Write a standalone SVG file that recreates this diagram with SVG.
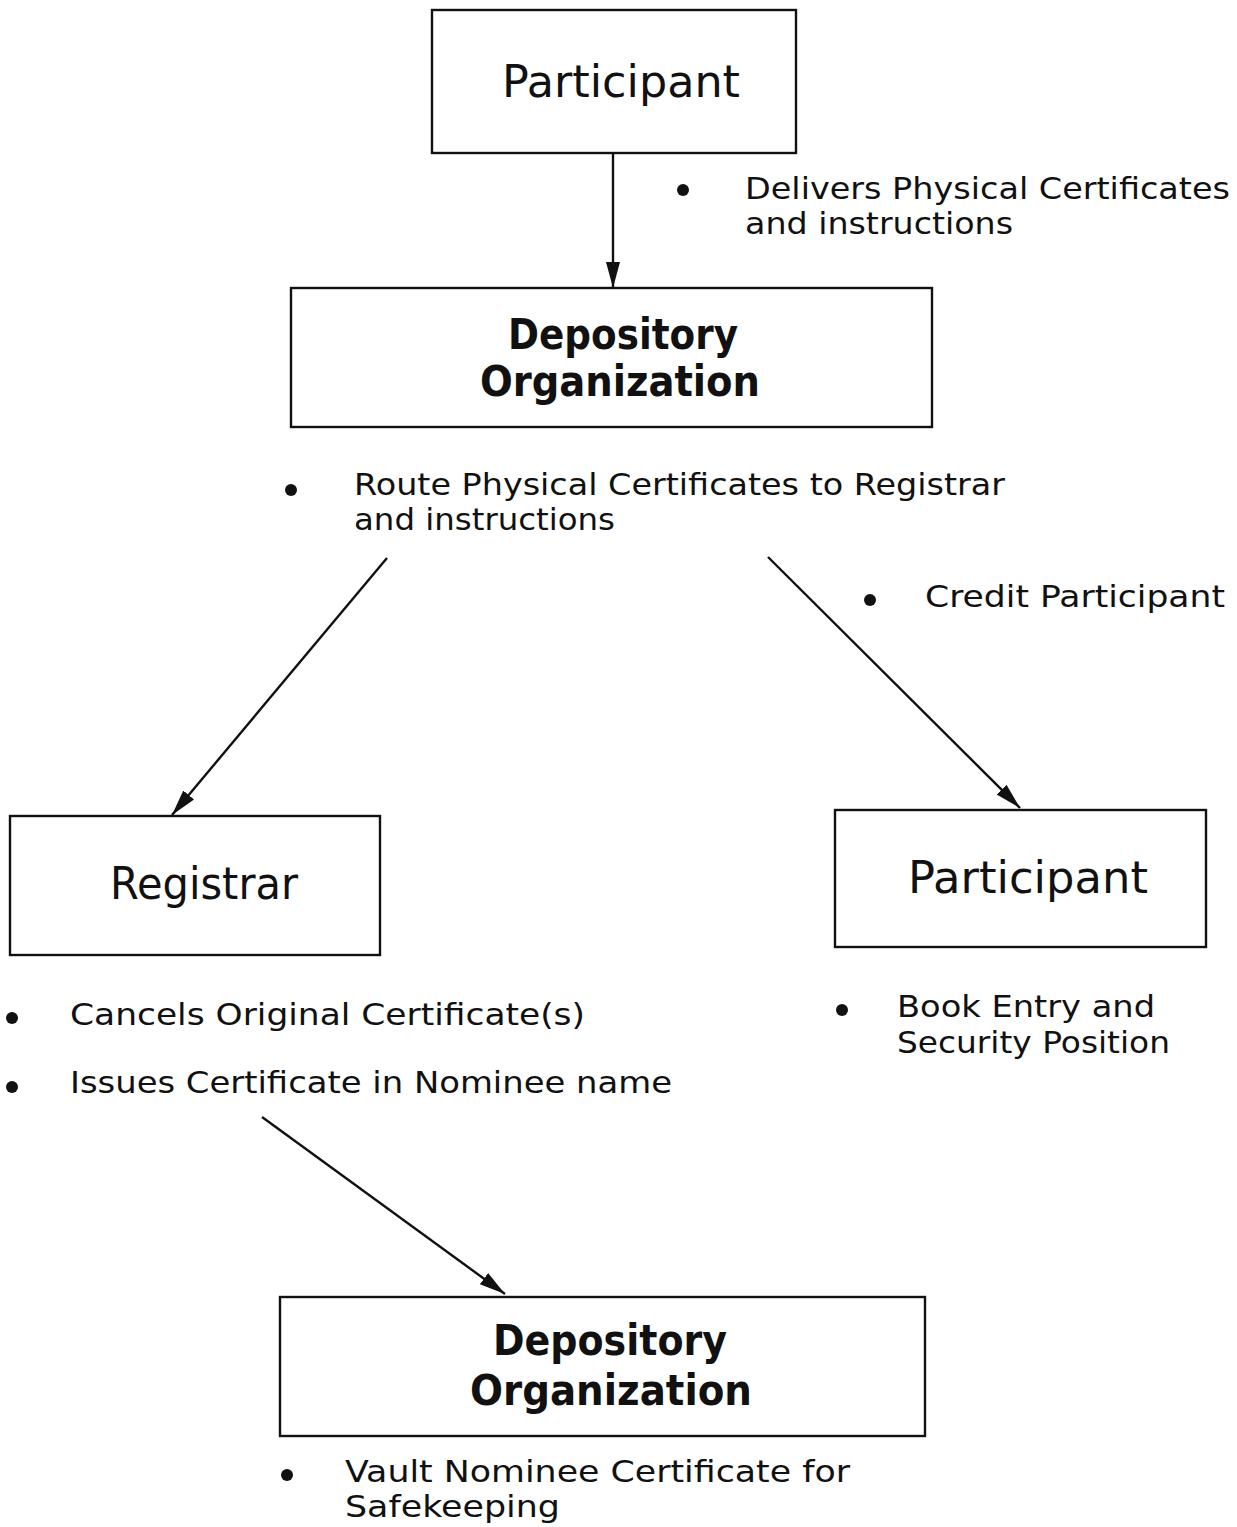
<svg xmlns="http://www.w3.org/2000/svg" width="1237" height="1527" viewBox="0 0 1237 1527">
  <style>
    .box { fill: none; stroke: #111; stroke-width: 2.4; }
    .lbl { font-family: "DejaVu Sans", "Liberation Sans", sans-serif; font-size: 45px; fill: #111; }
    .lblb { font-family: "DejaVu Sans", "Liberation Sans", sans-serif; font-size: 42px; font-weight: bold; fill: #111; }
    .txt { font-family: "DejaVu Sans", "Liberation Sans", sans-serif; font-size: 30px; fill: #111; }
    .dot { fill: #111; }
    .edge { stroke: #111; stroke-width: 2.4; fill: none; marker-end: url(#arrow); }
  </style>
  <defs>
    <marker id="arrow" markerUnits="userSpaceOnUse" markerWidth="28" markerHeight="18" refX="26" refY="9" orient="auto">
      <path d="M0,2 L26,9 L0,16 Z" fill="#111"/>
    </marker>
  </defs>
  <rect width="1237" height="1527" fill="#fff"/>

  <g id="connectors">
    <line class="edge" x1="613" y1="153" x2="613" y2="288"/>
    <line class="edge" x1="387" y1="558" x2="172" y2="815"/>
    <line class="edge" x1="768" y1="557" x2="1020" y2="808"/>
    <line class="edge" x1="262" y1="1117" x2="505" y2="1294"/>
  </g>

  <g id="participant-top">
    <rect class="box" x="432" y="10" width="364" height="143"/>
    <text class="lbl" x="502" y="97" textLength="238" lengthAdjust="spacingAndGlyphs">Participant</text>
    <circle class="dot" cx="683" cy="190" r="6"/>
    <text class="txt" x="745" y="199" textLength="485" lengthAdjust="spacingAndGlyphs">Delivers Physical Certificates</text>
    <text class="txt" x="745" y="234" textLength="268" lengthAdjust="spacingAndGlyphs">and instructions</text>
  </g>

  <g id="depository-mid">
    <rect class="box" x="291" y="288" width="641" height="139"/>
    <text class="lblb" x="508" y="349" textLength="230" lengthAdjust="spacingAndGlyphs">Depository</text>
    <text class="lblb" x="480" y="396" textLength="280" lengthAdjust="spacingAndGlyphs">Organization</text>
    <circle class="dot" cx="291" cy="490" r="6"/>
    <text class="txt" x="354" y="495" textLength="651" lengthAdjust="spacingAndGlyphs">Route Physical Certificates to Registrar</text>
    <text class="txt" x="354" y="530" textLength="261" lengthAdjust="spacingAndGlyphs">and instructions</text>
    <circle class="dot" cx="870" cy="600" r="6"/>
    <text class="txt" x="925" y="607" textLength="300" lengthAdjust="spacingAndGlyphs">Credit Participant</text>
  </g>

  <g id="registrar">
    <rect class="box" x="10" y="816" width="370" height="139"/>
    <text class="lbl" x="110" y="899" textLength="188" lengthAdjust="spacingAndGlyphs">Registrar</text>
    <circle class="dot" cx="12" cy="1018" r="6"/>
    <text class="txt" x="70" y="1025" textLength="515" lengthAdjust="spacingAndGlyphs">Cancels Original Certificate(s)</text>
    <circle class="dot" cx="12" cy="1087" r="6"/>
    <text class="txt" x="70" y="1093" textLength="602" lengthAdjust="spacingAndGlyphs">Issues Certificate in Nominee name</text>
  </g>

  <g id="participant-right">
    <rect class="box" x="835" y="810" width="371" height="137"/>
    <text class="lbl" x="908" y="893" textLength="240" lengthAdjust="spacingAndGlyphs">Participant</text>
    <circle class="dot" cx="842" cy="1010" r="6"/>
    <text class="txt" x="897" y="1017" textLength="258" lengthAdjust="spacingAndGlyphs">Book Entry and</text>
    <text class="txt" x="897" y="1053" textLength="273" lengthAdjust="spacingAndGlyphs">Security Position</text>
  </g>

  <g id="depository-bottom">
    <rect class="box" x="280" y="1297" width="645" height="139"/>
    <text class="lblb" x="493" y="1355" textLength="234" lengthAdjust="spacingAndGlyphs">Depository</text>
    <text class="lblb" x="470" y="1405" textLength="282" lengthAdjust="spacingAndGlyphs">Organization</text>
    <circle class="dot" cx="287" cy="1475" r="6"/>
    <text class="txt" x="345" y="1482" textLength="505" lengthAdjust="spacingAndGlyphs">Vault Nominee Certificate for</text>
    <text class="txt" x="345" y="1517" textLength="215" lengthAdjust="spacingAndGlyphs">Safekeeping</text>
  </g>
</svg>
